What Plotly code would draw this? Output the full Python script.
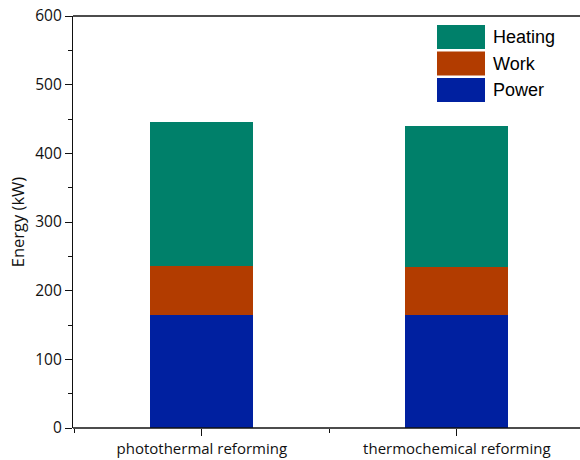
import plotly.graph_objects as go

# Energy breakdown per reforming route
categories = ["photothermal reforming", "thermochemical reforming"]
power = [164, 164]
work = [72, 70]
heating = [210, 206]

series = [
    ("Power", power, "rgb(0,32,160)"),
    ("Work", work, "rgb(178,60,0)"),
    ("Heating", heating, "rgb(0,128,106)"),
]

W, H = 580, 460
ML, MR, MT, MB = 73, 0, 16, 32
pos = list(range(len(categories)))

fig = go.Figure()
for name, vals, color in series:
    fig.add_trace(go.Bar(
        x=pos, y=vals, name=name, width=0.405,
        marker=dict(color=color, line=dict(width=0)),
        showlegend=False,
    ))

# Legend drawn as wide swatches with labels (paper coordinates)
pw, ph = W - ML - MR, H - MT - MB
def px_x(x):
    return (x - ML) / pw
def px_y(y):
    return 1 - (y - MT) / ph

shapes, annotations = [], []
legend_items = [("Heating", "rgb(0,128,106)"), ("Work", "rgb(178,60,0)"), ("Power", "rgb(0,32,160)")]
top = 25
for i, (name, color) in enumerate(legend_items):
    y0 = top + i * 26.5
    shapes.append(dict(type="rect", xref="paper", yref="paper",
                       x0=px_x(437), x1=px_x(485), y0=px_y(y0 + 24), y1=px_y(y0),
                       fillcolor=color, line=dict(width=0)))
    annotations.append(dict(xref="paper", yref="paper", x=px_x(491), y=px_y(y0 + 12),
                            text=name, showarrow=False, xanchor="left", yanchor="middle",
                            font=dict(family="Liberation Sans, Arial", size=18, color="black")))

# top and bottom frame lines
for yv in (0, 1):
    shapes.append(dict(type="line", xref="paper", yref="paper", x0=0, x1=1, y0=yv, y1=yv,
                       line=dict(color="#111", width=1.3)))

fig.update_layout(
    width=W, height=H,
    margin=dict(l=ML, r=MR, t=MT, b=MB, pad=0, autoexpand=False),
    barmode="stack",
    plot_bgcolor="white", paper_bgcolor="white",
    font=dict(family="Open Sans", size=14, color="#111"),
    shapes=shapes, annotations=annotations,
    xaxis=dict(
        range=[-0.505, 1.483],
        tickvals=pos, ticktext=categories,
        ticks="outside", ticklen=7, tickwidth=1.3, tickcolor="#111",
        showline=False, showgrid=False, zeroline=False, automargin=False,
        minor=dict(tickvals=[-0.5, 0.5], ticks="outside", ticklen=4,
                   tickwidth=1.3, tickcolor="#111"),
        tickfont=dict(size=15),
    ),
    yaxis=dict(
        range=[0, 600], dtick=100,
        ticks="outside", ticklen=7, tickwidth=1.3, tickcolor="#111",
        showline=True, linecolor="#111", linewidth=1.3,
        showgrid=False, zeroline=False, automargin=False,
        minor=dict(dtick=50, ticks="outside", ticklen=4, tickwidth=1.3, tickcolor="#111"),
        tickfont=dict(size=15.5),
        title=dict(text="Energy (kW)", font=dict(size=16.5), standoff=6),
    ),
)

fig.write_html("out.html")
